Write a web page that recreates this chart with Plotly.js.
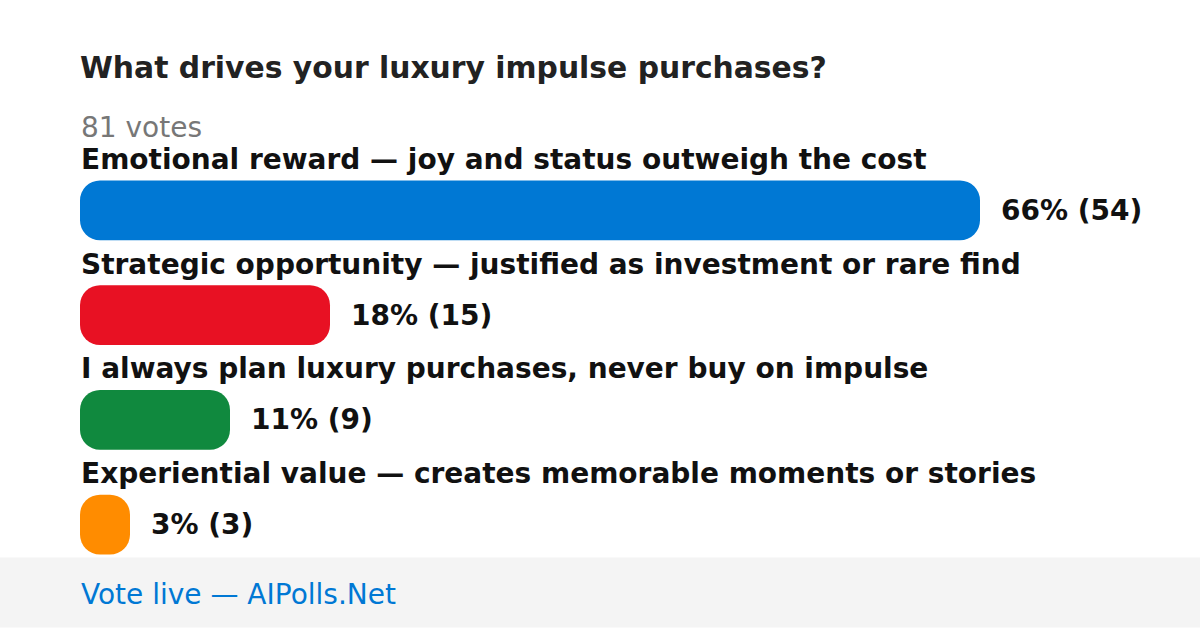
<!DOCTYPE html>
<html>
<head>
<meta charset="utf-8">
<script src="https://cdn.plot.ly/plotly-3.0.1.min.js"></script>
<style>
html,body{margin:0;padding:0;background:#fff;}
#chart{width:1200px;height:628px;}
</style>
</head>
<body>
<div id="chart"></div>
<script>
// ---- data ----
const titleText = "What drives your luxury impulse purchases?";
const totalVotesLabel = "81 votes";
const categories = [
  "Emotional reward — joy and status outweigh the cost",
  "Strategic opportunity — justified as investment or rare find",
  "I always plan luxury purchases, never buy on impulse",
  "Experiential value — creates memorable moments or stories"
];
const votes = [54, 15, 9, 3];
const percents = [66, 18, 11, 3];
const colors = ["#0078d4", "#e81123", "#10893e", "#ff8c00"];
const footerText = "Vote live — AIPolls.Net";

// ---- layout helpers (pixels) ----
const W = 1200, H = 628;
const mL = 80, mR = 220, mT = 157.5, mB = 50.5;
const plotH = H - mT - mB;
const pyToPaper = py => (H - mB - py) / plotH;
const FONT = "DejaVu Sans";

const idx = categories.map((_, i) => i);

// An explicit base makes Plotly round both ends of each bar.
const trace = {
  type: "bar", orientation: "h",
  y: idx,
  x: votes,
  base: votes.map(() => 0),
  width: 60 / 105,
  marker: { color: colors, cornerradius: 20, line: { width: 0 } },
  hoverinfo: "none"
};

const labelFont = { family: FONT, size: 28, color: "#111", weight: 700 };
const annotations = [];
categories.forEach((c, i) => {
  annotations.push({
    text: c, xref: "paper", x: 0, yref: "y", y: i, yshift: 51,
    xanchor: "left", yanchor: "middle", showarrow: false, borderpad: 0,
    font: labelFont
  });
  annotations.push({
    text: percents[i] + "% (" + votes[i] + ")", xref: "x", x: votes[i], yref: "y", y: i,
    xshift: 20, xanchor: "left", yanchor: "middle", showarrow: false, borderpad: 0,
    font: labelFont
  });
});
annotations.push({
  text: totalVotesLabel, xref: "paper", x: 0, yref: "paper", y: pyToPaper(127),
  xanchor: "left", yanchor: "middle", showarrow: false, borderpad: 0,
  font: { family: FONT, size: 28, color: "#777" }
});
annotations.push({
  text: footerText, xref: "paper", x: 0, yref: "paper", y: pyToPaper(595),
  xanchor: "left", yanchor: "middle", showarrow: false, borderpad: 0,
  font: { family: FONT, size: 28, color: "#0078d4" }
});

const layout = {
  width: W, height: H,
  margin: { l: mL, r: mR, t: mT, b: mB, pad: 0 },
  paper_bgcolor: "#ffffff", plot_bgcolor: "#ffffff",
  showlegend: false,
  title: {
    text: titleText, xref: "container", x: mL / W, xanchor: "left",
    yref: "container", y: 1 - 68 / H, yanchor: "middle",
    font: { family: FONT, size: 29.8, color: "#222", weight: 700 }
  },
  xaxis: { range: [0, Math.max(...votes)], visible: false, fixedrange: true },
  yaxis: { range: [categories.length - 0.5, -0.5], visible: false, fixedrange: true },
  shapes: [{
    type: "rect", xref: "paper", yref: "paper", layer: "below",
    x0: -mL / (W - mL - mR), x1: (W - mL) / (W - mL - mR),
    y0: pyToPaper(H), y1: pyToPaper(558),
    fillcolor: "#f4f4f4", line: { width: 0 }
  }],
  annotations: annotations
};

Plotly.newPlot("chart", [trace], layout, { displayModeBar: false, staticPlot: true });
</script>
</body>
</html>
